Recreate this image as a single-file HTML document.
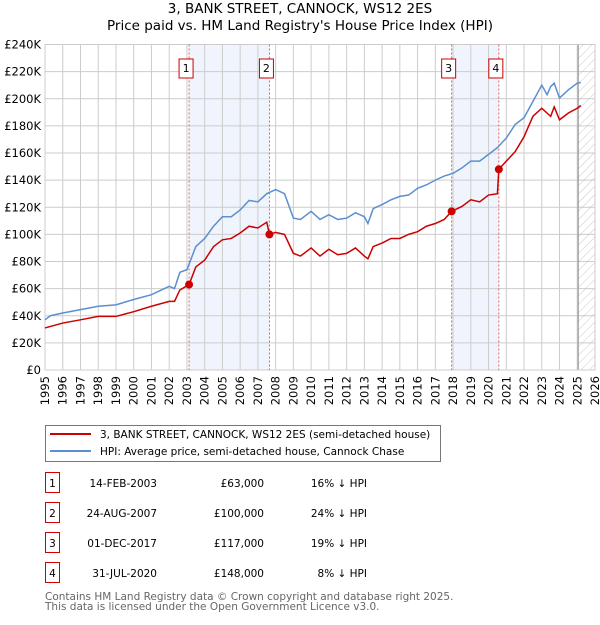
<!DOCTYPE html>
<html><head><meta charset="utf-8"><style>
body{margin:0;background:#fff;font-family:"Liberation Sans","DejaVu Sans",sans-serif;}
svg text{font-family:"DejaVu Sans","Liberation Sans",sans-serif;}
</style></head><body>
<svg id="c" width="600" height="620" xmlns="http://www.w3.org/2000/svg">
<defs><pattern id="hatch" width="6" height="6" patternUnits="userSpaceOnUse" patternTransform="rotate(45)"><line x1="0" y1="0" x2="0" y2="6" stroke="#bbb" stroke-width="0.8"/></pattern></defs>
<text x="300" y="13" text-anchor="middle" font-size="13.5">3, BANK STREET, CANNOCK, WS12 2ES</text>
<text x="300" y="30" text-anchor="middle" font-size="13.5">Price paid vs. HM Land Registry's House Price Index (HPI)</text>
<g id="plot"></g>
<g>
<rect x="45.5" y="425.5" width="395" height="36" fill="#fff" stroke="#777"/>
<line x1="50" y1="434" x2="91" y2="434" stroke="#cc0000" stroke-width="2"/>
<text x="100" y="438" font-size="10.5">3, BANK STREET, CANNOCK, WS12 2ES (semi-detached house)</text>
<line x1="50" y1="451" x2="91" y2="451" stroke="#5b8fd0" stroke-width="2"/>
<text x="100" y="455" font-size="10.5">HPI: Average price, semi-detached house, Cannock Chase</text>
</g>
<g id="table" font-size="10.5"></g>
<text x="45" y="600" font-size="10.5" fill="#666">Contains HM Land Registry data © Crown copyright and database right 2025.</text>
<text x="45" y="610" font-size="10.5" fill="#666">This data is licensed under the Open Government Licence v3.0.</text>
</svg>
<script>
const yTicks=[0,20,40,60,80,100,120,140,160,180,200,220,240];
const yTickLabels=["£0","£20K","£40K","£60K","£80K","£100K","£120K","£140K","£160K","£180K","£200K","£220K","£240K"];
const xYears=[1995,1996,1997,1998,1999,2000,2001,2002,2003,2004,2005,2006,2007,2008,2009,2010,2011,2012,2013,2014,2015,2016,2017,2018,2019,2020,2021,2022,2023,2024,2025,2026];
const hpiT=[1995.0,1995.3,1996,1997,1998,1999,2000,2001,2002,2002.3,2002.6,2003.0,2003.5,2004,2004.5,2005,2005.5,2006,2006.5,2007,2007.5,2008,2008.5,2009,2009.4,2010,2010.5,2011,2011.5,2012,2012.5,2013,2013.2,2013.5,2014,2014.5,2015,2015.5,2016,2016.5,2017,2017.5,2018,2018.5,2019,2019.5,2020,2020.5,2021,2021.5,2022,2022.5,2023,2023.3,2023.5,2023.7,2024,2024.5,2025,2025.2];
const hpiV=[37,40,42,44.5,47,48,52,55.5,61.7,60,72,74,91,97,106,113,113,118,125,124,130,133,130,112,111,117,111,114.5,111,112,116,113,108,119,122,125.5,128,129,134,136.5,140,143,145,149,154,154,159,164,171,181,186,198,210,203,209,211.5,200.5,206.6,211.5,212];
const ppT=[1995.0,1996,1997,1998,1999,2000,2001,2002,2002.3,2002.6,2003.12,2003.5,2004,2004.5,2005,2005.5,2006,2006.5,2007,2007.5,2007.65,2008,2008.5,2009,2009.4,2010,2010.5,2011,2011.5,2012,2012.5,2013,2013.2,2013.5,2014,2014.5,2015,2015.5,2016,2016.5,2017,2017.5,2017.92,2018.5,2019,2019.5,2020,2020.5,2020.58,2021,2021.5,2022,2022.5,2023,2023.5,2023.7,2024,2024.5,2025,2025.2];
const ppV=[31,34.6,37,39.5,39.5,43,47,50.6,50.6,59,63,76,81,91,96,97,101,106,104.7,109,100,101.5,100,86,84,90,84,89,85,86,90,84,82,91,93.6,97,97,100,102,106,108,111,117,120.6,125.5,124,129,130,148,154,161,172,187,193,187,194,184.5,189.5,193,195];
const saleLabels=["1","2","3","4"];
const saleT=[2003.12,2007.65,2017.92,2020.58];
const saleV=[63,100,117,148];
const saleDates=["14-FEB-2003","24-AUG-2007","01-DEC-2017","31-JUL-2020"];
const salePrices=["£63,000","£100,000","£117,000","£148,000"];
const saleHpi=["16% ↓ HPI","24% ↓ HPI","19% ↓ HPI","8% ↓ HPI"];

const NS="http://www.w3.org/2000/svg";
const L=45,R=595,T=44.5,B=370;
const X=t=>L+(t-1995)/(2026-1995)*(R-L);
const Y=v=>B-v/240*(B-T);
const g=document.getElementById('plot');
function mk(tag,a,parent){const e=document.createElementNS(NS,tag);for(const k in a)e.setAttribute(k,a[k]);(parent||g).appendChild(e);return e;}

for(let i=0;i<2;i++){
  const k=i*2;
  const r=mk('rect',{x:X(saleT[k]),y:T,width:X(saleT[k+1])-X(saleT[k]),height:B-T,fill:'#f0f4fc'});
  
  
}
yTicks.forEach((v,i)=>{
  const l=mk('line',{x1:L,x2:R,y1:Y(v),y2:Y(v),stroke:'#ccc','stroke-width':1});
  
  
  const t=mk('text',{x:L-4,y:Y(v)+4,'text-anchor':'end','font-size':11.5});
  t.textContent=yTickLabels[i];
  
  
});
xYears.forEach(yr=>{
  const l=mk('line',{x1:X(yr),x2:X(yr),y1:T,y2:B,stroke:'#ccc','stroke-width':1});
  
  
  const t=mk('text',{x:0,y:0,'text-anchor':'end','font-size':11.5,transform:`translate(${X(yr)+4},${B+6}) rotate(-90)`});
  t.textContent=yr;
  
  
});
const h=mk('rect',{x:X(2025.05),y:T,width:R-X(2025.05),height:B-T,fill:'url(#hatch)'});


const vl=mk('line',{x1:X(2025.05),x2:X(2025.05),y1:T,y2:B,stroke:'#888','stroke-width':1});


const fr=mk('rect',{x:L,y:T,width:R-L,height:B-T,fill:'none',stroke:'#ccc'});



saleT.forEach((t,i)=>{
  const l=mk('line',{x1:X(t),x2:X(t),y1:T,y2:B,stroke:'#e06060','stroke-width':1,'stroke-dasharray':'2,2'});
  
  
  const b=mk('rect',{x:X(t)-10,y:59,width:14,height:19,fill:'#fff',stroke:'#cc0000'});
  
  
  const tx=mk('text',{x:X(t)-3,y:72,'text-anchor':'middle','font-size':11});
  tx.textContent=saleLabels[i];
  
  
});
const hp=mk('polyline',{points:hpiT.map((t,i)=>X(t)+','+Y(hpiV[i])).join(' '),fill:'none',stroke:'#5b8fd0','stroke-width':1.5});


const pp=mk('polyline',{points:ppT.map((t,i)=>X(t)+','+Y(ppV[i])).join(' '),fill:'none',stroke:'#cc0000','stroke-width':1.5});


saleT.forEach((t,i)=>{
  const c=mk('circle',{cx:X(t),cy:Y(saleV[i]),r:4,fill:'#cc0000'});
  
  
});

const tb=document.getElementById('table');
saleLabels.forEach((s,i)=>{
  const y=483+i*30;
  const b=mk('rect',{x:45.5,y:y-10.5,width:14,height:20,fill:'#fff',stroke:'#cc0000'},tb);
  
  
  const a=mk('text',{x:52.5,y:y+4,'text-anchor':'middle'},tb);a.textContent=s;
  
  
  const d=mk('text',{x:157,y:y+4,'text-anchor':'end'},tb);d.textContent=saleDates[i];
  
  
  const p=mk('text',{x:264,y:y+4,'text-anchor':'end'},tb);p.textContent=salePrices[i];
  
  
  const q=mk('text',{x:367,y:y+4,'text-anchor':'end'},tb);q.textContent=saleHpi[i];
  
  
});
</script>
</body></html>
